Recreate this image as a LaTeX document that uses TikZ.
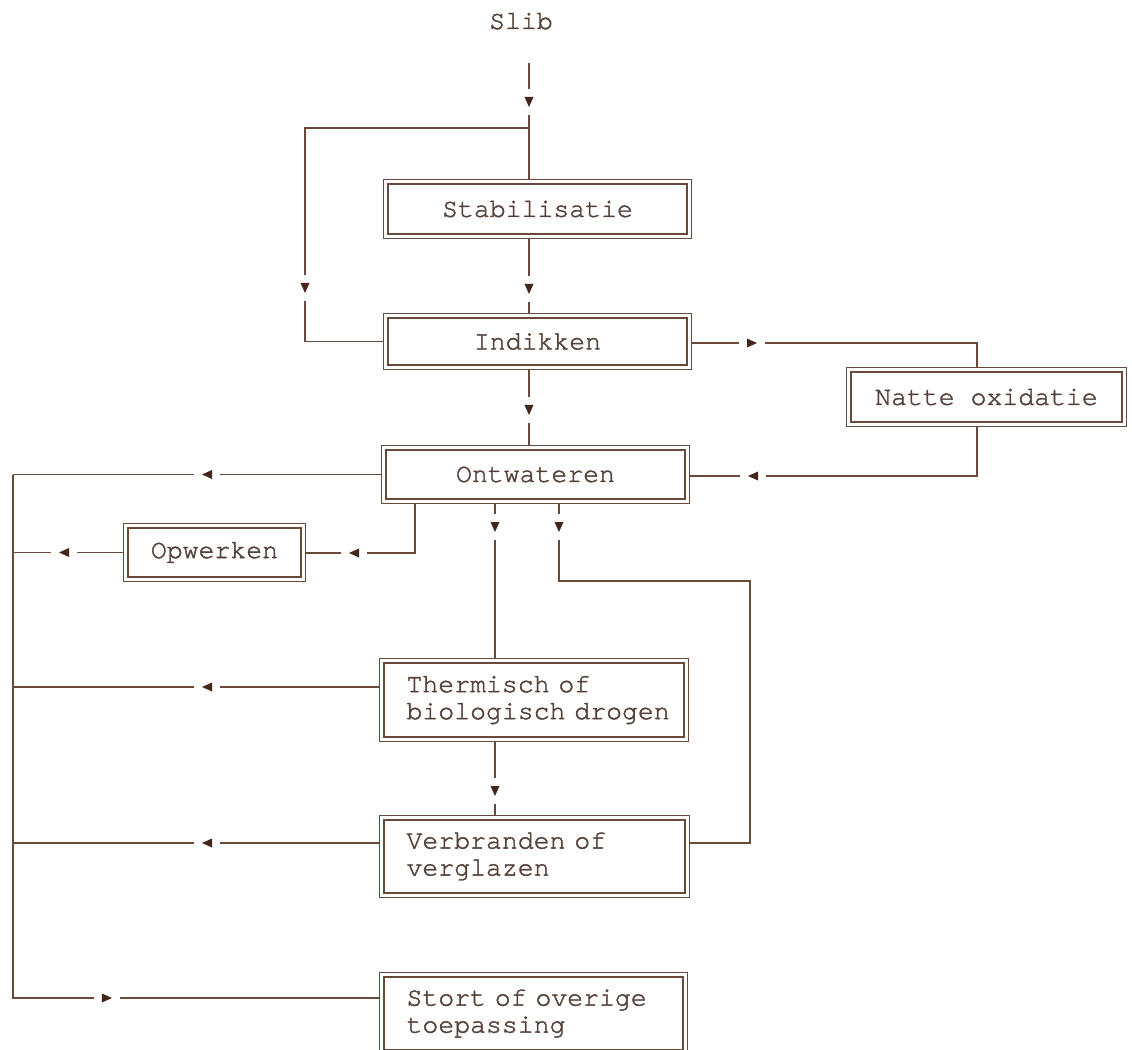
\documentclass[tikz,border=0pt]{standalone}
\usepackage{fontspec}
\newfontfamily\typewriter[FakeBold=1.6]{TeX Gyre Cursor}
\usetikzlibrary{decorations.markings}

\definecolor{linec}{RGB}{105,74,58}
\definecolor{textc}{RGB}{84,66,58}
\definecolor{tipc}{RGB}{68,38,28}

% flow direction mark: a short break in the line with a small solid triangle
\newcommand{\flowtip}{%
  \fill[white] (-13,-3.5) rectangle (13,3.5);
  \fill[tipc] (-5,-4.5) -- (5,0) -- (-5,4.5) -- cycle;}
% left indent of text lines inside the two-line boxes
\newcommand{\ind}{\hspace*{14.8pt}}

\begin{document}
\begin{tikzpicture}[x=0.6pt, y=-0.6pt,
  every node/.style={font=\typewriter\fontsize{15.9}{16.2}\selectfont, text=textc},
  stage/.style={draw=linec, double=white, double distance=1.8pt, line width=0.8pt,
    inner sep=0pt, outer sep=1.7pt},
  twoline/.style={align=left},
  flow/.style={draw=linec, line width=0.95pt},
  flowmark/.style={postaction={decorate, decoration={markings,
    mark=at position #1 with {\flowtip}}}},
]
\useasboundingbox (0,0) rectangle (1132,1050);
\clip (0,0) rectangle (1132,1050);

% process steps
\node[anchor=base] (slib) at (521,29) {Slib};
\node[stage, minimum width=182pt, minimum height=32.6pt] (stab) at (537.5,209) {Stabilisatie};
\node[stage, minimum width=182pt, minimum height=30.8pt] (ind) at (537.5,341.5) {Indikken};
\node[stage, minimum width=165.2pt, minimum height=32.6pt] (natte) at (986.5,397) {Natte oxidatie};
\node[stage, minimum width=182pt, minimum height=32pt] (ont) at (535.5,474.5) {Ontwateren};
\node[stage, minimum width=106.4pt, minimum height=32pt] (opw) at (214.5,552.5) {Opwerken};
\node[stage, twoline, text width=182.6pt, minimum height=47pt] (therm) at (534,700)
  {\ind Thermisch of\\\ind biologisch drogen};
\node[stage, twoline, text width=183.2pt, minimum height=46.4pt] (verb) at (534.5,856.5)
  {\ind Verbranden of\\\ind verglazen};
\node[stage, twoline, text width=182pt, minimum height=46.4pt] (stort) at (533.5,1013.5)
  {\ind Stort of overige\\\ind toepassing};

% routing points
\coordinate (feed) at (529,63);
\coordinate (split) at (529,128);
\coordinate (bypass) at (305,128);
\coordinate (ox) at (977,343);
\coordinate (ix) at (977,476);
\coordinate (ow) at (415,553);
\coordinate (dx) at (495,0);
\coordinate (loopA) at (559,581);
\coordinate (loopB) at (750,581);
\coordinate (busN) at (13,475);
\coordinate (busS) at (13,998);
\coordinate (rowT) at (0,687);
\coordinate (rowV) at (0,843);

% main line
\draw[flow, flowmark=23.4pt] (feed) -- (feed |- stab.north);
\draw[flow, flowmark=230.4pt] (split) -- (bypass) -- (bypass |- ind.west) -- (ind.west);
\draw[flow, flowmark=30pt] (stab.south -| feed) -- (ind.north -| feed);
\draw[flow, flowmark=36pt] (ind.east |- ox) -- (ox) -- (ox |- natte.north);
\draw[flow, flowmark=163.8pt] (natte.south -| ix) -- (ix) -- (ix -| ont.east);
\draw[flow, flowmark=24pt] (ind.south -| feed) -- (ont.north -| feed);

% collecting line on the left
\draw[flow, flowmark=104.4pt] (ont.west) -- (ont.west -| busN);
\draw[flow, flowmark=370.2pt] (busN) -- (busS) -- (busS -| stort.west);
\draw[flow, flowmark=35.4pt] (opw.west) -- (opw.west -| busN);
\draw[flow, flowmark=103.2pt] (therm.west |- rowT) -- (busN |- rowT);
\draw[flow, flowmark=103.2pt] (verb.west |- rowV) -- (busN |- rowV);

% branches below dewatering
\draw[flow, flowmark=66pt] (ont.south -| ow) -- (ow) -- (ow -| opw.east);
\draw[flow, flowmark=13.8pt] (ont.south -| dx) -- (therm.north -| dx);
\draw[flow, flowmark=13.8pt] (ont.south -| loopA) -- (loopA) -- (loopB)
  -- (loopB |- rowV) -- (verb.east |- rowV);
\draw[flow, flowmark=29.4pt] (therm.south -| dx) -- (verb.north -| dx);
\end{tikzpicture}
\end{document}
